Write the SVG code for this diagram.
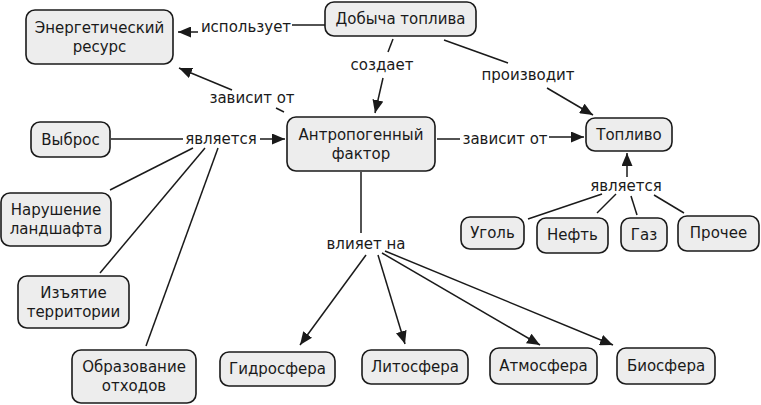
<svg xmlns="http://www.w3.org/2000/svg" width="761" height="405" viewBox="0 0 761 405">
<defs>
<style>
.n rect{fill:#ededed;stroke:#1a1a1a;stroke-width:1.6}
text{font-family:"DejaVu Sans",Verdana,sans-serif;font-size:15px;fill:#1a1a1a;text-anchor:middle}
.c line{stroke:#1a1a1a;stroke-width:1.5}
.c .a{marker-end:url(#ah)}
</style>
<marker id="ah" viewBox="0 0 13 11" refX="13" refY="5.5" markerWidth="13" markerHeight="11" markerUnits="userSpaceOnUse" orient="auto">
<path d="M0,0L13,5.5L0,11z" fill="#1a1a1a"/>
</marker>
</defs>
<rect width="761" height="405" fill="#fff"/>
<g class="c" id="connectors">
<line x1="325" y1="25" x2="292" y2="25"/>
<line class="a" x1="198" y1="32" x2="178" y2="32"/>
<line x1="393" y1="39" x2="388" y2="52"/>
<line class="a" x1="383" y1="78" x2="375" y2="113"/>
<line x1="444" y1="40" x2="508" y2="63"/>
<line class="a" x1="547" y1="88" x2="593" y2="115"/>
<line x1="284" y1="112" x2="276" y2="108"/>
<line class="a" x1="232" y1="90" x2="179" y2="68"/>
<line x1="111" y1="139" x2="183" y2="139"/>
<line class="a" x1="260" y1="139" x2="285" y2="139"/>
<line x1="193" y1="148" x2="110" y2="190"/>
<line x1="205" y1="148" x2="100" y2="273"/>
<line x1="218" y1="148" x2="146" y2="346"/>
<line x1="437" y1="139" x2="460" y2="139"/>
<line class="a" x1="549" y1="137" x2="584" y2="137"/>
<line class="a" x1="627" y1="177" x2="627" y2="153"/>
<line x1="602" y1="194" x2="528" y2="219"/>
<line x1="616" y1="194" x2="597" y2="213"/>
<line x1="631" y1="196" x2="637" y2="215"/>
<line x1="654" y1="195" x2="684" y2="213"/>
<line x1="361" y1="172" x2="361" y2="233"/>
<line class="a" x1="366" y1="255" x2="300" y2="345"/>
<line class="a" x1="378" y1="255" x2="405" y2="344"/>
<line class="a" x1="382" y1="253" x2="540" y2="345"/>
<line class="a" x1="385" y1="251" x2="613" y2="345"/>
</g>
<g class="n" id="energy"><rect x="26" y="10" width="147" height="54" rx="9"/><text x="99.5" y="33">Энергетический</text><text x="99.5" y="52">ресурс</text></g>
<g class="n" id="mining"><rect x="325" y="2" width="151" height="34" rx="9"/><text x="400.5" y="24">Добыча топлива</text></g>
<g class="n" id="emission"><rect x="31" y="122" width="79" height="35" rx="9"/><text x="70.5" y="145">Выброс</text></g>
<g class="n" id="anthro"><rect x="287" y="117" width="148" height="54" rx="9"/><text x="361" y="140">Антропогенный</text><text x="361" y="159">фактор</text></g>
<g class="n" id="fuel"><rect x="586" y="118" width="86" height="33" rx="9"/><text x="629" y="140">Топливо</text></g>
<g class="n" id="landscape"><rect x="1" y="193" width="110" height="53" rx="9"/><text x="56" y="215">Нарушение</text><text x="56" y="234">ландшафта</text></g>
<g class="n" id="territory"><rect x="18" y="276" width="111" height="52" rx="9"/><text x="73.5" y="298">Изъятие</text><text x="73.5" y="317">территории</text></g>
<g class="n" id="waste"><rect x="72" y="350" width="124" height="53" rx="9"/><text x="134" y="372">Образование</text><text x="134" y="391">отходов</text></g>
<g class="n" id="hydro"><rect x="220" y="352" width="115" height="34" rx="9"/><text x="277.5" y="374">Гидросфера</text></g>
<g class="n" id="litho"><rect x="362" y="350" width="106" height="34" rx="9"/><text x="415" y="372">Литосфера</text></g>
<g class="n" id="atmo"><rect x="490" y="348" width="107" height="36" rx="9"/><text x="543.5" y="371">Атмосфера</text></g>
<g class="n" id="bio"><rect x="617" y="348" width="98" height="36" rx="9"/><text x="666" y="371">Биосфера</text></g>
<g class="n" id="coal"><rect x="461" y="217" width="63" height="32" rx="9"/><text x="492.5" y="238">Уголь</text></g>
<g class="n" id="oil"><rect x="537" y="218" width="71" height="35" rx="9"/><text x="572.5" y="240">Нефть</text></g>
<g class="n" id="gas"><rect x="621" y="218" width="46" height="33" rx="9"/><text x="644" y="240">Газ</text></g>
<g class="n" id="other"><rect x="678" y="216" width="81" height="35" rx="9"/><text x="718.5" y="238">Прочее</text></g>
<g id="labels">
<text x="246" y="32">использует</text>
<text x="382" y="70">создает</text>
<text x="528" y="80">производит</text>
<text x="252" y="103">зависит от</text>
<text x="221" y="144">является</text>
<text x="505" y="144">зависит от</text>
<text x="626" y="191">является</text>
<text x="366" y="249">влияет на</text>
</g>
</svg>
